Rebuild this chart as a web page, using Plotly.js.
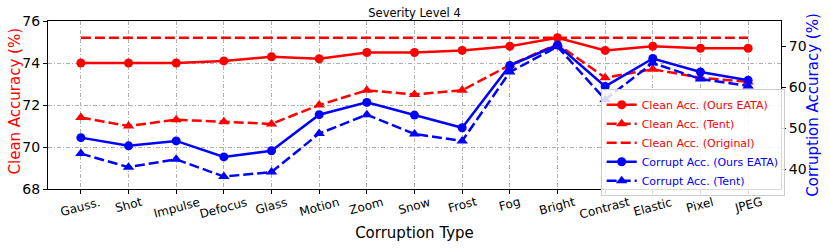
<!DOCTYPE html>
<html><head><meta charset="utf-8">
<script src="https://cdn.plot.ly/plotly-3.0.1.min.js"></script>
<style>html,body{margin:0;padding:0;background:#fff;}#chart{width:830px;height:248px;}</style>
</head><body><div id="chart"></div>
<script>
const categories = ['Gauss.','Shot','Impulse','Defocus','Glass','Motion','Zoom','Snow','Frost','Fog','Bright','Contrast','Elastic','Pixel','JPEG'];
const cleanEATA = [74.0,74.0,74.0,74.1,74.3,74.2,74.5,74.5,74.6,74.8,75.2,74.6,74.8,74.7,74.7];
const cleanTent = [71.4,71.0,71.3,71.2,71.1,72.0,72.7,72.5,72.7,73.9,74.9,73.3,73.7,73.3,73.1];
const cleanOriginal = [75.2,75.2,75.2,75.2,75.2,75.2,75.2,75.2,75.2,75.2,75.2,75.2,75.2,75.2,75.2];
const corruptEATA = [47.7,45.7,46.9,43.0,44.5,53.3,56.3,53.2,50.1,65.3,70.3,60.2,67.0,63.7,61.7];
const corruptTent = [43.8,40.5,42.4,38.2,39.3,48.7,53.3,48.6,46.9,63.7,69.9,57.0,65.9,62.0,60.3];
const seriesNames = ['Clean Acc. (Ours EATA)','Clean Acc. (Tent)','Clean Acc. (Original)','Corrupt Acc. (Ours EATA)','Corrupt Acc. (Tent)'];
const leftTicks = [68,70,72,74,76];
const rightTicks = [40,50,60,70];
const leftTitle = 'Clean Accuracy (%)';
const rightTitle = 'Corruption Accuracy (%)';

const RED = '#ff0000', BLUE = '#0000ff';
const DASH = '10px,4px';
function lab(t, c){ return '<span style="color:'+c+'">'+t+'</span>'; }

const traces = [
  {x: categories, y: cleanEATA, name: lab(seriesNames[0], RED), yaxis: 'y', mode: 'lines+markers',
   line: {color: RED, width: 2.5}, marker: {symbol: 'circle', size: 9, color: RED}},
  {x: categories, y: cleanTent, name: lab(seriesNames[1], RED), yaxis: 'y', mode: 'lines+markers',
   line: {color: RED, width: 2.5, dash: DASH}, marker: {symbol: 'triangle-up', size: 10, color: RED}},
  {x: categories, y: cleanOriginal, name: lab(seriesNames[2], RED), yaxis: 'y', mode: 'lines',
   line: {color: RED, width: 2.5, dash: DASH}},
  {x: categories, y: corruptEATA, name: lab(seriesNames[3], BLUE), yaxis: 'y2', mode: 'lines+markers',
   line: {color: BLUE, width: 2.5}, marker: {symbol: 'circle', size: 9, color: BLUE}},
  {x: categories, y: corruptTent, name: lab(seriesNames[4], BLUE), yaxis: 'y2', mode: 'lines+markers',
   line: {color: BLUE, width: 2.5, dash: DASH}, marker: {symbol: 'triangle-up', size: 10, color: BLUE}}
];

const FONT = 'DejaVu Sans, sans-serif';
const annotations = categories.map(c => ({
  x: c, xref: 'x', y: -0.02, yref: 'paper', yanchor: 'top', xanchor: 'center',
  text: c, textangle: -15, showarrow: false, font: {family: FONT, size: 12, color: '#000'}
}));
annotations.push({
  text: leftTitle, xref: 'paper', yref: 'paper', x: -0.045, y: 0.521, xanchor: 'center', yanchor: 'middle',
  textangle: -90, showarrow: false, font: {family: FONT, size: 15, color: RED}
});
annotations.push({
  text: rightTitle, xref: 'paper', yref: 'paper', x: 1.0437, y: 0.496, xanchor: 'center', yanchor: 'middle',
  textangle: -90, showarrow: false, font: {family: FONT, size: 15, color: BLUE}
});

const layout = {
  width: 830, height: 248,
  margin: {l: 48, r: 49, t: 21, b: 59},
  paper_bgcolor: '#fff', plot_bgcolor: '#fff',
  font: {family: FONT, color: '#000'},
  showlegend: true,
  title: {text: 'Severity Level 4', font: {family: FONT, size: 11.5, color: '#000'},
          x: 0.5, xref: 'paper', xanchor: 'center', y: 0.948, yanchor: 'middle'},
  xaxis: {
    type: 'category', range: [-0.69, 14.69],
    showticklabels: false, ticks: 'outside', ticklen: 4, tickcolor: '#000', tickwidth: 1,
    showline: true, linecolor: '#000', linewidth: 1, mirror: true,
    showgrid: true, gridcolor: '#b0b0b0', gridwidth: 1, griddash: '4px,2px,1px,2px',
    zeroline: false,
    title: {text: 'Corruption Type', font: {family: FONT, size: 15, color: '#000'}, standoff: 34},
    automargin: false
  },
  yaxis: {
    range: [68, 76], tickvals: leftTicks, ticktext: leftTicks.map(String),
    ticks: 'outside', ticklen: 4, tickcolor: '#000', tickfont: {family: FONT, size: 14, color: '#000'},
    showline: true, linecolor: '#000', linewidth: 1,
    showgrid: true, gridcolor: '#b0b0b0', gridwidth: 1, griddash: '4px,2px,1px,2px',
    zeroline: false, automargin: false
  },
  yaxis2: {
    range: [35.17, 76.15], overlaying: 'y', side: 'right', tickvals: rightTicks, ticktext: rightTicks.map(String),
    ticks: 'outside', ticklen: 4, tickcolor: '#000', tickfont: {family: FONT, size: 14, color: '#000'},
    showline: true, linecolor: '#000', linewidth: 1, showgrid: false, zeroline: false,
    automargin: false
  },
  legend: {
    x: 0.754, y: 0.594, xanchor: 'left', yanchor: 'top', xref: 'paper', yref: 'paper',
    bgcolor: 'rgba(255,255,255,0.85)', bordercolor: '#cccccc', borderwidth: 1,
    font: {family: FONT, size: 11}, tracegroupgap: 0
  },
  annotations: annotations
};

Plotly.newPlot('chart', traces, layout, {staticPlot: true, displayModeBar: false});
</script>
</body></html>
